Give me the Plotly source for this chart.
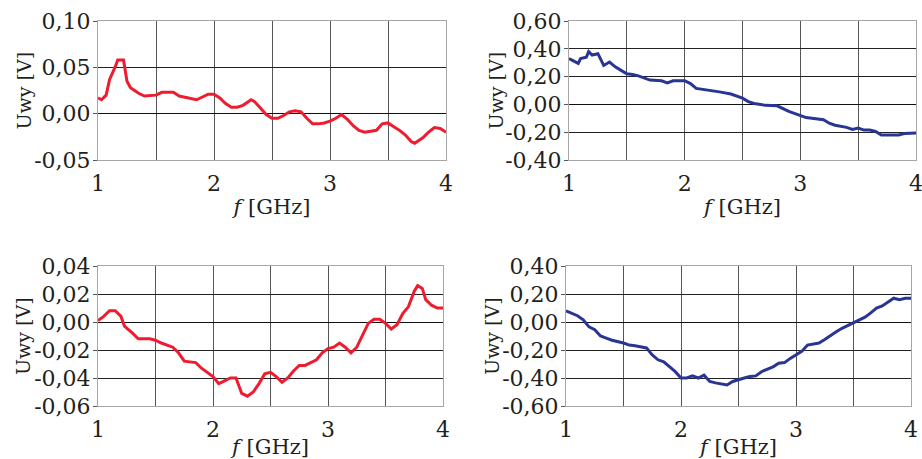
import plotly.graph_objects as go

# ---- data ----
f1 = [1.0, 1.03, 1.07, 1.1, 1.15, 1.17, 1.22, 1.25, 1.28, 1.35, 1.4, 1.5, 1.55, 1.65, 1.7, 1.8, 1.85, 1.9, 1.95, 2.0,
      2.05, 2.1, 2.15, 2.2, 2.25, 2.32, 2.35, 2.4, 2.45, 2.5, 2.55, 2.6, 2.65, 2.7, 2.75, 2.8, 2.85, 2.9, 2.95, 3.0,
      3.05, 3.1, 3.15, 3.2, 3.25, 3.3, 3.35, 3.4, 3.45, 3.5, 3.55, 3.6, 3.65, 3.7, 3.73, 3.8, 3.85, 3.9, 3.95, 4.0]
u1 = [0.017, 0.015, 0.020, 0.037, 0.051, 0.058, 0.058, 0.035, 0.028, 0.022, 0.019, 0.020, 0.023, 0.023, 0.019, 0.016,
      0.015, 0.018, 0.021, 0.021, 0.017, 0.011, 0.007, 0.007, 0.009, 0.015, 0.013, 0.006, -0.001, -0.005, -0.005,
      -0.002, 0.002, 0.003, 0.002, -0.005, -0.011, -0.011, -0.010, -0.008, -0.005, -0.001, -0.006, -0.013, -0.018,
      -0.020, -0.019, -0.018, -0.011, -0.010, -0.014, -0.018, -0.023, -0.030, -0.032, -0.026, -0.020, -0.015,
      -0.016, -0.020]

f2 = [1.0, 1.05, 1.08, 1.1, 1.15, 1.17, 1.2, 1.25, 1.28, 1.3, 1.35, 1.4, 1.45, 1.5, 1.55, 1.6, 1.7, 1.8, 1.85, 1.9,
      2.0, 2.05, 2.1, 2.2, 2.3, 2.4, 2.5, 2.55, 2.6, 2.7, 2.8, 2.9, 3.0, 3.05, 3.1, 3.2, 3.25, 3.3, 3.4, 3.45, 3.5,
      3.55, 3.6, 3.65, 3.7, 3.75, 3.8, 3.85, 3.9, 3.95, 4.0]
u2 = [0.33, 0.31, 0.295, 0.33, 0.34, 0.38, 0.355, 0.365, 0.32, 0.28, 0.305, 0.27, 0.245, 0.22, 0.215, 0.205, 0.175,
      0.17, 0.155, 0.17, 0.17, 0.15, 0.115, 0.105, 0.09, 0.075, 0.045, 0.02, 0.007, -0.007, -0.01, -0.05, -0.08,
      -0.095, -0.10, -0.11, -0.135, -0.15, -0.165, -0.18, -0.17, -0.185, -0.185, -0.195, -0.22, -0.22, -0.225,
      -0.22, -0.21, -0.21, -0.205]

f3 = [1.0, 1.05, 1.1, 1.15, 1.2, 1.23, 1.3, 1.35, 1.45, 1.5, 1.55, 1.65, 1.7, 1.75, 1.85, 1.9, 2.0, 2.05, 2.1, 2.15,
      2.2, 2.25, 2.3, 2.35, 2.4, 2.45, 2.5, 2.55, 2.6, 2.65, 2.7, 2.75, 2.8, 2.85, 2.9, 2.95, 3.0, 3.05, 3.1, 3.15,
      3.2, 3.25, 3.3, 3.35, 3.4, 3.45, 3.5, 3.55, 3.6, 3.65, 3.7, 3.75, 3.78, 3.82, 3.85, 3.9, 3.95, 4.0]
u3 = [0.001, 0.004, 0.008, 0.008, 0.004, -0.003, -0.008, -0.012, -0.012, -0.013, -0.015, -0.018, -0.022, -0.028,
      -0.029, -0.033, -0.039, -0.044, -0.042, -0.040, -0.040, -0.051, -0.053, -0.050, -0.044, -0.037, -0.036,
      -0.039, -0.043, -0.040, -0.035, -0.031, -0.031, -0.029, -0.027, -0.022, -0.019, -0.018, -0.015, -0.018,
      -0.022, -0.018, -0.009, -0.001, 0.002, 0.002, -0.001, -0.005, -0.002, 0.006, 0.011, 0.022, 0.026, 0.024,
      0.016, 0.012, 0.010, 0.010]

f4 = [1.0, 1.05, 1.1, 1.15, 1.2, 1.25, 1.3, 1.35, 1.4, 1.5, 1.55, 1.6, 1.7, 1.75, 1.8, 1.85, 1.9, 1.95, 2.0, 2.05,
      2.1, 2.15, 2.2, 2.25, 2.3, 2.35, 2.4, 2.45, 2.5, 2.55, 2.6, 2.65, 2.7, 2.8, 2.85, 2.9, 2.95, 3.0, 3.05, 3.1,
      3.2, 3.25, 3.3, 3.35, 3.4, 3.5, 3.6, 3.65, 3.7, 3.75, 3.8, 3.85, 3.9, 3.95, 4.0]
u4 = [0.08, 0.06, 0.045, 0.015, -0.035, -0.055, -0.10, -0.115, -0.13, -0.15, -0.165, -0.17, -0.185, -0.235, -0.27,
      -0.285, -0.32, -0.355, -0.40, -0.40, -0.385, -0.40, -0.38, -0.425, -0.435, -0.44, -0.45, -0.425, -0.41,
      -0.40, -0.39, -0.385, -0.355, -0.32, -0.295, -0.29, -0.26, -0.235, -0.21, -0.165, -0.15, -0.125, -0.095,
      -0.07, -0.045, -0.005, 0.035, 0.065, 0.10, 0.115, 0.14, 0.17, 0.16, 0.17, 0.17]

x_tickvals = [1, 1.5, 2, 2.5, 3, 3.5, 4]
x_ticktext = ["1", "", "2", "", "3", "", "4"]
y_tickvals = [
    [-0.05, 0.0, 0.05, 0.10],
    [-0.40, -0.20, 0.0, 0.20, 0.40, 0.60],
    [-0.06, -0.04, -0.02, 0.0, 0.02, 0.04],
    [-0.60, -0.40, -0.20, 0.0, 0.20, 0.40],
]
y_ticktext = [
    ["-0,05", "0,00", "0,05", "0,10"],
    ["-0,40", "-0,20", "0,00", "0,20", "0,40", "0,60"],
    ["-0,06", "-0,04", "-0,02", "0,00", "0,02", "0,04"],
    ["-0,60", "-0,40", "-0,20", "0,00", "0,20", "0,40"],
]
y_title = "Uwy [V]"

RED = "#ee1c2e"
BLUE = "#283593"
FONT = "DejaVu Serif"

series = [(f1, u1, RED), (f2, u2, BLUE), (f3, u3, RED), (f4, u4, BLUE)]
xdomains = [(98 / 922, 446 / 922), (569 / 922, 916 / 922), (98 / 922, 443 / 922), (566 / 922, 911 / 922)]
top_dom = (1 - 160 / 459, 1 - 21 / 459)
bot_dom = (1 - 406 / 459, 1 - 266 / 459)
ydomains = [top_dom, top_dom, bot_dom, bot_dom]
ytitle_x = [23 / 922, 495 / 922, 23 / 922, 492 / 922]

fig = go.Figure()
layout = dict(
    width=922, height=459,
    margin=dict(l=0, r=0, t=0, b=0, autoexpand=False),
    paper_bgcolor="white", plot_bgcolor="white",
    showlegend=False,
    font=dict(family=FONT, size=20, color="#231f20"),
)
annotations = []

for i, (fx, uy, col) in enumerate(series):
    n = "" if i == 0 else str(i + 1)
    fig.add_trace(go.Scatter(x=fx, y=uy, mode="lines", line=dict(color=col, width=3),
                             xaxis="x" + n, yaxis="y" + n, hoverinfo="skip", cliponaxis=True))
    tv = y_tickvals[i]
    layout["xaxis" + n] = dict(
        domain=list(xdomains[i]), anchor="y" + n, range=[1, 4], automargin=False,
        tickmode="array", tickvals=x_tickvals, ticktext=x_ticktext,
        showgrid=True, gridcolor="#555555", gridwidth=1,
        showline=True, linecolor="#a6a6a6", linewidth=1, mirror=True,
        ticks="outside", ticklen=4, tickcolor="rgba(0,0,0,0)",
        tickfont=dict(size=22), ticklabeloverflow="allow",
        zeroline=False,
        title=dict(text="<i>f</i> [GHz]", font=dict(size=21), standoff=3),
    )
    layout["yaxis" + n] = dict(
        domain=list(ydomains[i]), anchor="x" + n, range=[tv[0], tv[-1]], automargin=False,
        tickmode="array", tickvals=tv, ticktext=y_ticktext[i],
        showgrid=True, gridcolor="#222222", gridwidth=1,
        showline=True, linecolor="#a6a6a6", linewidth=1, mirror=True,
        ticks="outside", ticklen=4, tickcolor="#555555",
        tickfont=dict(size=22), ticklabelstandoff=-2,
        zeroline=True, zerolinecolor="#111111", zerolinewidth=1,
    )
    annotations.append(dict(
        text=y_title, textangle=-90, showarrow=False,
        xref="paper", yref="paper", x=ytitle_x[i], y=sum(ydomains[i]) / 2,
        xanchor="center", yanchor="middle", font=dict(size=19),
    ))

layout["annotations"] = annotations
fig.update_layout(**layout)
fig.write_html("out.html",
               config={"displayModeBar": False},
               post_script="document.body.style.margin='0';document.body.style.padding='0';"
                           "document.body.style.overflow='hidden';")
